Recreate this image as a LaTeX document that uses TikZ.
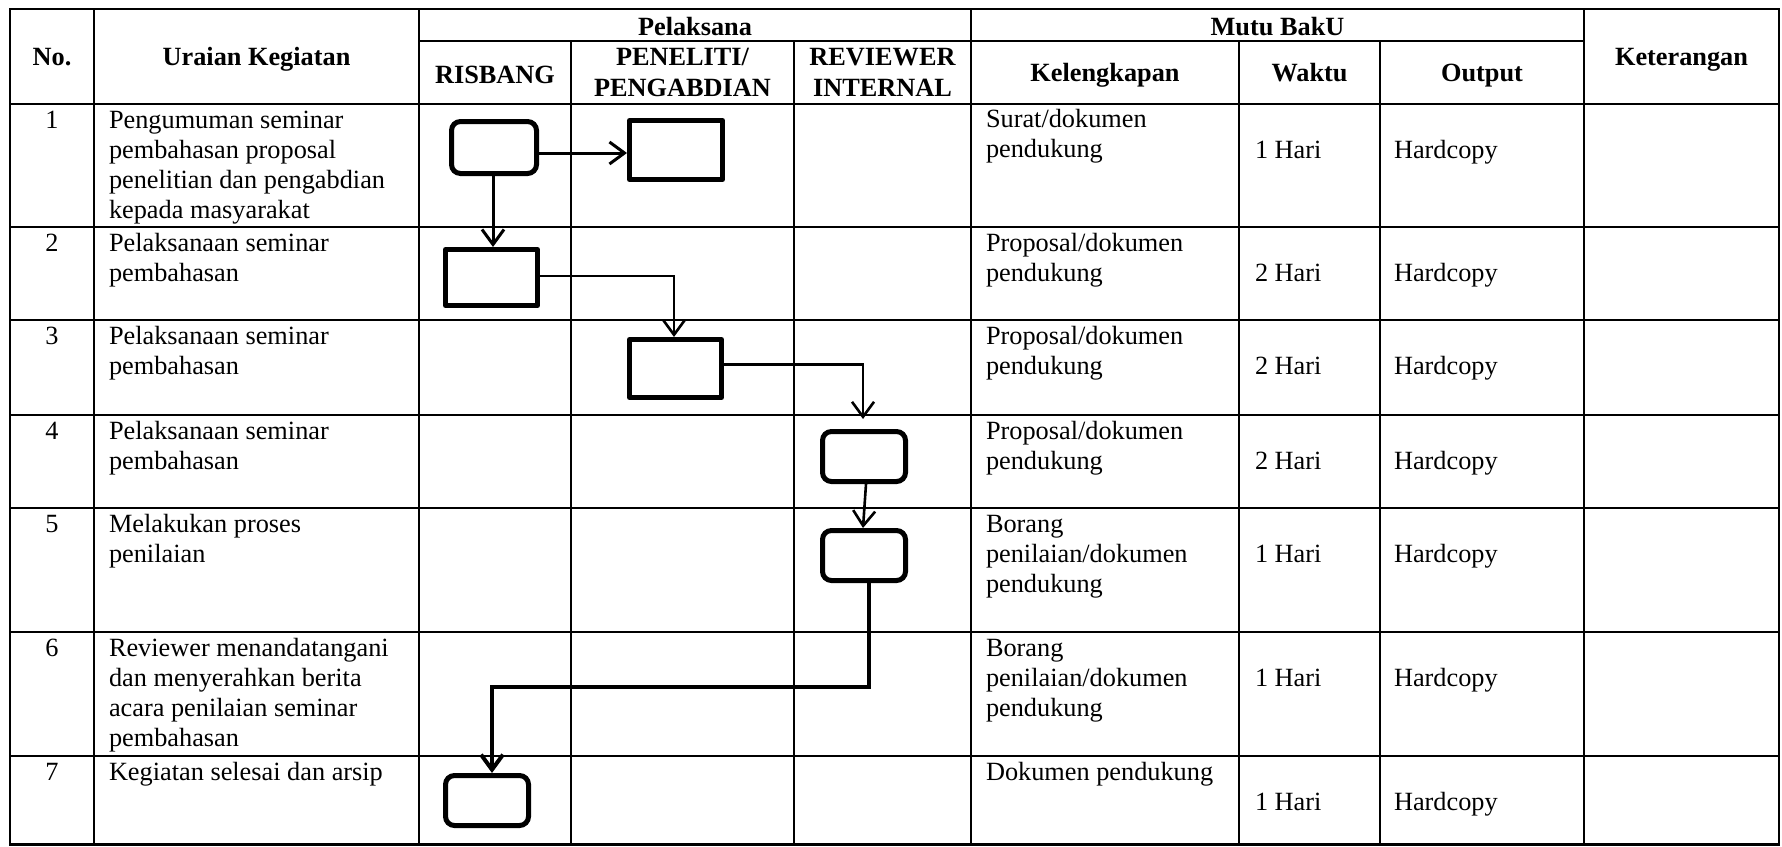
\documentclass[tikz,border=0pt]{standalone}
\usepackage{fontspec}
\setmainfont{Liberation Serif}
\usetikzlibrary{arrows.meta}
\begin{document}
\begin{tikzpicture}[x=1pt,y=-1pt,
  tline/.style={line width=2.6pt, line cap=rect},
  tx/.style={inner sep=0pt, outer sep=0pt, font=\fontsize{26.3}{30}\selectfont},
  hd/.style={inner sep=0pt, outer sep=0pt, font=\fontsize{26.3}{31}\selectfont\bfseries, anchor=base},
  hdm/.style={inner sep=0pt, outer sep=0pt, font=\fontsize{26.3}{31}\selectfont\bfseries, anchor=north, align=center},
  cell/.style={tx, anchor=north west, align=left},
  num/.style={tx, anchor=base},
  val/.style={tx, anchor=base west},
  rbox/.style={draw, line width=5pt, rounded corners=9pt, inner sep=0pt, minimum width=83pt, minimum height=50pt},
  sbox/.style={draw, line width=5pt, line join=round, inner sep=0pt},
  arr/.style={line width=3pt, -{Straight Barb[length=15pt, width=22pt]}},
  arrb/.style={line width=2.6pt, -{Straight Barb[length=15pt, width=22pt]}},
  arrc/.style={line width=4pt, -{Straight Barb[length=15pt, width=22pt]}}
]
\fill[white] (0,0) rectangle (1782,846);
% table grid
\foreach \y in {9,104,227,320,415,508,632,756,844.5}
  \draw[tline] (10,\y) -- (1779,\y);
\draw[tline] (419,41) -- (1584,41);
\foreach \x in {10,94,419,971,1584,1779}
  \draw[tline] (\x,9) -- (\x,844.5);
\foreach \x in {571,794,1239,1380}
  \draw[tline] (\x,41) -- (\x,844.5);
% headers
\node[hd] (hNo) at (52,65) {No.};
\node[hd] (hUr) at (256.5,65) {Uraian Kegiatan};
\node[hd] (hPel) at (695,35) {Pelaksana};
\node[hd] (hMutu) at (1277.5,35) {Mutu BakU};
\node[hd] (hKet) at (1681.5,65) {Keterangan};
\node[hd] (hRis) at (495,83) {RISBANG};
\node[hdm] (hPen) at (682.5,43.8) {\strut PENELITI/\\PENGABDIAN};
\node[hdm] (hRev) at (882.5,43.8) {\strut REVIEWER\\INTERNAL};
\node[hd] (hKel) at (1105,81) {Kelengkapan};
\node[hd] (hWak) at (1309.5,81) {Waktu};
\node[hd] (hOut) at (1482,81) {Output};
% row 1
\node[num] (n1) at (52,128) {1};
\node[cell] (u1) at (109,107) {\strut Pengumuman seminar\\pembahasan proposal\\penelitian dan pengabdian\\kepada masyarakat};
\node[cell] (k1) at (986,106) {\strut Surat/dokumen\\pendukung};
\node[val] (w1) at (1255,158) {1 Hari};
\node[val] (o1) at (1394,158) {Hardcopy};
% row 2
\node[num] (n2) at (52,251) {2};
\node[cell] (u2) at (109,230) {\strut Pelaksanaan seminar\\pembahasan};
\node[cell] (k2) at (986,230) {\strut Proposal/dokumen\\pendukung};
\node[val] (w2) at (1255,281) {2 Hari};
\node[val] (o2) at (1394,281) {Hardcopy};
% row 3
\node[num] (n3) at (52,344) {3};
\node[cell] (u3) at (109,323) {\strut Pelaksanaan seminar\\pembahasan};
\node[cell] (k3) at (986,323) {\strut Proposal/dokumen\\pendukung};
\node[val] (w3) at (1255,374) {2 Hari};
\node[val] (o3) at (1394,374) {Hardcopy};
% row 4
\node[num] (n4) at (52,439) {4};
\node[cell] (u4) at (109,418) {\strut Pelaksanaan seminar\\pembahasan};
\node[cell] (k4) at (986,418) {\strut Proposal/dokumen\\pendukung};
\node[val] (w4) at (1255,469) {2 Hari};
\node[val] (o4) at (1394,469) {Hardcopy};
% row 5
\node[num] (n5) at (52,532) {5};
\node[cell] (u5) at (109,511) {\strut Melakukan proses\\penilaian};
\node[cell] (k5) at (986,511) {\strut Borang\\penilaian/dokumen\\pendukung};
\node[val] (w5) at (1255,562) {1 Hari};
\node[val] (o5) at (1394,562) {Hardcopy};
% row 6
\node[num] (n6) at (52,656) {6};
\node[cell] (u6) at (109,635) {\strut Reviewer menandatangani\\dan menyerahkan berita\\acara penilaian seminar\\pembahasan};
\node[cell] (k6) at (986,635) {\strut Borang\\penilaian/dokumen\\pendukung};
\node[val] (w6) at (1255,686) {1 Hari};
\node[val] (o6) at (1394,686) {Hardcopy};
% row 7
\node[num] (n7) at (52,780) {7};
\node[val] (u7) at (109,780) {Kegiatan selesai dan arsip};
\node[val] (k7) at (986,780) {Dokumen pendukung};
\node[val] (w7) at (1255,810) {1 Hari};
\node[val] (o7) at (1394,810) {Hardcopy};
% flow shapes
\node[rbox, minimum width=85pt, minimum height=52pt] (b1) at (494,147.5) {};
\node[sbox, minimum width=93pt, minimum height=59pt] (p1) at (676,150) {};
\node[sbox, minimum width=92pt, minimum height=56pt] (b2) at (491.5,277.5) {};
\node[sbox, minimum width=92pt, minimum height=58pt] (b3) at (675.5,368.5) {};
\node[rbox] (b4) at (864,456.5) {};
\node[rbox] (b5) at (864,555.5) {};
\node[rbox] (b7) at (487,800.5) {};
% connectors
\coordinate (a1) at ([yshift=-5.5pt]b1.east);
\draw[arr] (a1) -- (a1 -| p1.west);
\coordinate (d1) at ([xshift=-1pt]b1.south);
\draw[arr] (d1) -- (d1 |- b2.north);
\coordinate (a2) at ([yshift=1.5pt]b2.east);
\coordinate (t3) at ([xshift=-1.5pt]b3.north);
\draw[arrb] (a2) -| (t3);
\coordinate (a3) at ([yshift=4pt]b3.east);
\coordinate (t4) at ([xshift=-1pt,yshift=10pt]b4.north);
\draw[arrb] (a3) -| (t4);
\draw[arrb] ([xshift=2pt]b4.south) -- ([xshift=-1pt]b5.north);
\coordinate (k) at (492,687);
\draw[arrc] ([xshift=5pt]b5.south) |- (k) -- (k |- b7.north);
\end{tikzpicture}
\end{document}
